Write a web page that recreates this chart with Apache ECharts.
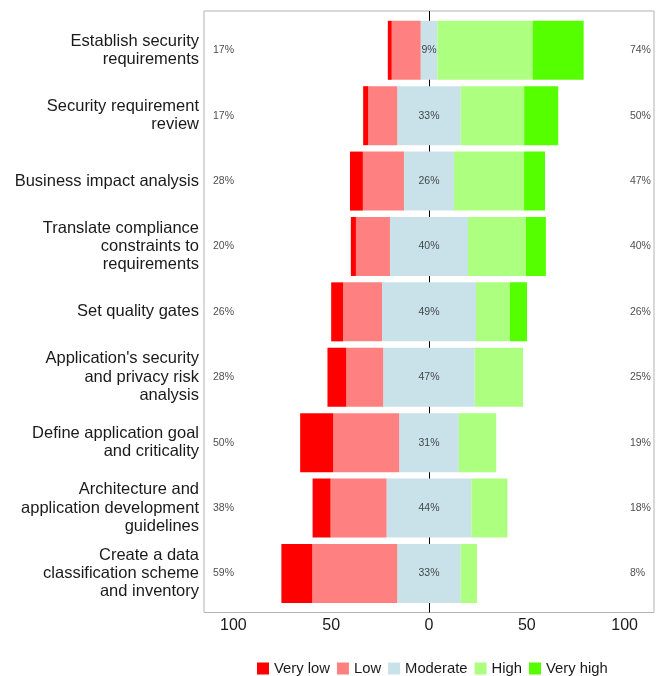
<!DOCTYPE html>
<html>
<head>
<meta charset="utf-8">
<script src="https://cdn.jsdelivr.net/npm/echarts@6/dist/echarts.min.js"></script>
<style>
  html, body { margin: 0; padding: 0; background: #ffffff; }
  #chart { width: 662px; height: 676px; }
</style>
</head>
<body>
<div id="chart"></div>
<script>
const categories = [
  "Establish security\nrequirements",
  "Security requirement\nreview",
  "Business impact analysis",
  "Translate compliance\nconstraints to\nrequirements",
  "Set quality gates",
  "Application's security\nand privacy risk\nanalysis",
  "Define application goal\nand criticality",
  "Architecture and\napplication development\nguidelines",
  "Create a data\nclassification scheme\nand inventory"
];
const veryLow  = [2.0, 2.6, 6.6, 2.6, 6.1, 9.6, 16.9, 9.2, 15.8];
const low      = [14.8, 14.8, 21.0, 17.4, 19.9, 18.9, 33.7, 28.6, 43.4];
const moderate = [8.5, 32.5, 25.6, 39.9, 48.0, 46.8, 30.5, 43.4, 32.5];
const high     = [48.7, 32.4, 35.8, 29.6, 17.4, 24.7, 19.1, 18.4, 8.3];
const veryHigh = [26.1, 17.4, 10.7, 10.2, 8.7, 0, 0, 0, 0];
const lowPct   = [17, 17, 28, 20, 26, 28, 50, 38, 59];
const midPct   = [9, 33, 26, 40, 49, 47, 31, 44, 33];
const highPct  = [74, 50, 47, 40, 26, 25, 19, 18, 8];
const legendNames = ["Very low", "Low", "Moderate", "High", "Very high"];

const colors = {
  "Very low": "#ff0000",
  "Low": "#ff8080",
  "Moderate": "#c9e2ea",
  "High": "#adff80",
  "Very high": "#55ff00"
};

const FONT = "'Liberation Sans', Arial, Helvetica, sans-serif";
const X_MIN = -115, X_MAX = 115;
const LEFT_LABEL_X = -110.4;
const RIGHT_LABEL_X = 102.7;

function barSeries(name, values, sign) {
  return {
    name: name,
    type: 'bar',
    xAxisIndex: 0,
    yAxisIndex: 0,
    stack: 'likert',
    barWidth: 59,
    itemStyle: { color: colors[name] },
    data: values.map(v => sign * v),
    z: 10
  };
}

function labelSeries(xVal, texts, pos) {
  return {
    type: 'scatter',
    xAxisIndex: 0,
    yAxisIndex: 0,
    symbolSize: 0,
    silent: true,
    z: 20,
    data: texts.map((t, i) => ({ value: [xVal, categories[i]], txt: t + '%' })),
    label: {
      show: true,
      position: pos,
      distance: 0,
      formatter: p => p.data.txt,
      fontFamily: FONT,
      fontSize: 10.5,
      color: '#1a1a1a'
    }
  };
}

const chart = echarts.init(document.getElementById('chart'), null, { renderer: 'canvas' });
chart.setOption({
  animation: false,
  backgroundColor: '#ffffff',
  textStyle: { fontFamily: FONT },
  grid: [
    { left: 204, right: 8, top: 17.6, bottom: 69.9, containLabel: false, show: false },
    { left: 204, right: 8, top: 11, bottom: 63.5, containLabel: false, show: true,
      borderColor: '#b3b3b3', borderWidth: 1, backgroundColor: 'transparent', z: 0 }
  ],
  xAxis: [
    { type: 'value', gridIndex: 0, min: X_MIN, max: X_MAX, show: false },
    { type: 'value', gridIndex: 1, min: X_MIN, max: X_MAX,
      axisLine: { show: false }, axisTick: { show: false }, splitLine: { show: false },
      axisLabel: { fontSize: 16, fontFamily: FONT, color: '#1a1a1a', margin: 5,
        showMinLabel: false, showMaxLabel: false,
        formatter: v => String(Math.abs(v)) } }
  ],
  yAxis: [
    { type: 'category', gridIndex: 0, inverse: true, data: categories,
      axisLine: { show: false }, axisTick: { show: false }, splitLine: { show: false },
      axisLabel: { fontSize: 16.5, fontFamily: FONT, color: '#1a1a1a', margin: 5,
        lineHeight: 18.3, align: 'right', padding: [3, 0, 0, 0] } },
    { type: 'value', gridIndex: 1, min: 0, max: 1,
      axisLine: { show: false }, axisTick: { show: false },
      axisLabel: { show: false }, splitLine: { show: false } }
  ],
  legend: {
    data: legendNames,
    left: 257,
    top: 661,
    padding: 0,
    icon: 'rect',
    itemWidth: 12,
    itemHeight: 12,
    itemGap: 7,
    textStyle: { fontSize: 14.8, fontFamily: FONT, color: '#1a1a1a' },
    selectedMode: false
  },
  series: [
    {
      type: 'line',
      xAxisIndex: 1,
      yAxisIndex: 1,
      data: [],
      silent: true,
      z: 1,
      markLine: {
        silent: true,
        symbol: ['none', 'none'],
        label: { show: false },
        lineStyle: { color: '#000000', width: 1, type: 'solid' },
        data: [{ xAxis: 0 }]
      }
    },
    barSeries('Moderate', moderate.map(v => v / 2), -1),
    barSeries('Low', low, -1),
    barSeries('Very low', veryLow, -1),
    barSeries('Moderate', moderate.map(v => v / 2), 1),
    barSeries('High', high, 1),
    barSeries('Very high', veryHigh, 1),
    labelSeries(LEFT_LABEL_X, lowPct, 'right'),
    labelSeries(0, midPct, 'inside'),
    labelSeries(RIGHT_LABEL_X, highPct, 'right')
  ]
});
</script>
</body>
</html>
